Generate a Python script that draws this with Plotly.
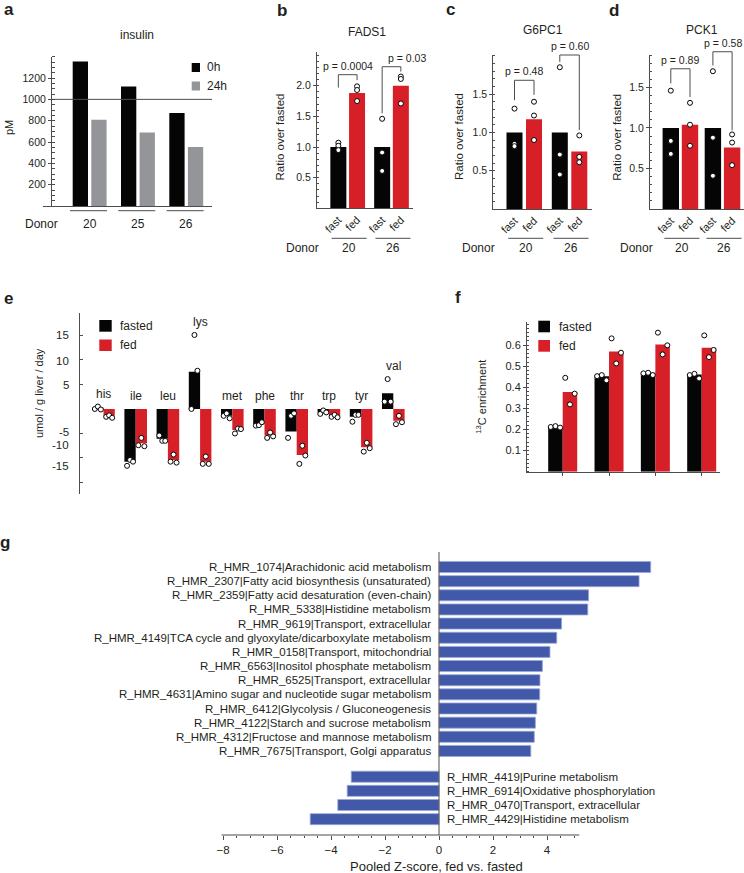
import plotly.graph_objects as go

W, H = 744, 873
FONT = "Liberation Sans, Arial, Helvetica, sans-serif"
TXT = "#231f20"
AXC = "#4d4d4d"
BLK = "#050505"
RED = "#d71f27"
GRY = "#939598"
BLUE = "#4159a8"

# ------------------------------------------------------------------ data
# a: insulin (pM)
insulin_donors = ["20", "25", "26"]
insulin_0h = [1355, 1120, 872]
insulin_24h = [808, 690, 553]
insulin_ref_line = 1000
insulin_ticks = [200, 400, 600, 800, 1000, 1200]

# b-d: ratio over fasted
gene_donors = ["20", "26"]
gene_conditions = ["fast", "fed"]

fads1_fast = [1.0, 1.0]
fads1_fed = [1.88, 2.0]
fads1_fast_pts = [[1.07, 1.02, 0.95], [1.46, 0.91, 0.61]]
fads1_fed_pts = [[1.99, 1.93, 1.75], [2.15, 2.11, 1.71]]
fads1_p = ["p = 0.0004", "p = 0.03"]

g6pc1_fast = [1.0, 1.0]
g6pc1_fed = [1.17, 0.75]
g6pc1_fast_pts = [[1.31, 0.85, 0.82], [1.85, 0.71, 0.45]]
g6pc1_fed_pts = [[1.40, 1.22, 0.90], [0.96, 0.68, 0.61]]
g6pc1_p = ["p = 0.48", "p = 0.60"]

pck1_fast = [1.0, 1.0]
pck1_fed = [1.04, 0.76]
pck1_fast_pts = [[1.46, 0.84, 0.68], [1.70, 0.88, 0.41]]
pck1_fed_pts = [[1.31, 1.04, 0.78], [0.92, 0.82, 0.54]]
pck1_p = ["p = 0.89", "p = 0.58"]

# e: amino acid flux (umol / g liver / day)
amino_acids = ["his", "ile", "leu", "lys", "met", "phe", "thr", "trp", "tyr", "val"]
aa_fasted = [0.2, -10.75, -6.1, 7.6, -1.4, -3.1, -4.6, -0.7, -1.6, 3.2]
aa_fed = [-1.4, -7.0, -10.4, -10.75, -4.3, -5.4, -9.4, -1.4, -7.8, -2.4]
aa_fasted_pts = [[0.0, 0.5, -0.1], [-11.6, -10.4, -10.75], [-5.4, -6.5, -6.5],
                 [0.0, 15.1, 7.8], [-1.4, -0.9, -1.9], [-3.4, -3.3, -2.7],
                 [-5.9, -1.4, -0.9], [-1.0, -0.3, -0.7], [-2.6, -1.2, -1.2],
                 [1.5, 6.1, 1.5]]
aa_fed_pts = [[-1.6, -1.3, -1.8], [-7.4, -5.9, -7.6], [-10.75, -9.3, -10.95],
              [-11.2, -9.7, -11.2], [-5.0, -4.0, -4.1], [-5.9, -4.8, -5.6],
              [-11.2, -7.5, -9.5], [-1.6, -1.2, -1.7], [-8.7, -6.9, -8.0],
              [-3.1, -1.4, -2.7]]
aa_ticks = [15, 10, 5, -5, -10, -15]
aa_tick_labels = ["15", "10", "5", "-5", "-10", "-15"]

# f: 13C enrichment
enrich_fasted = [0.212, 0.453, 0.469, 0.461]
enrich_fed = [0.378, 0.570, 0.603, 0.588]
enrich_fasted_pts = [[0.212, 0.216, 0.209], [0.453, 0.458, 0.433],
                     [0.466, 0.469, 0.458], [0.458, 0.464, 0.442]]
enrich_fed_pts = [[0.445, 0.319, 0.370], [0.632, 0.513, 0.564],
                  [0.659, 0.556, 0.599], [0.646, 0.543, 0.577]]
enrich_ticks = [0.1, 0.2, 0.3, 0.4, 0.5, 0.6]

# g: pooled Z-scores
up_pathways = [
    "R_HMR_1074|Arachidonic acid metabolism",
    "R_HMR_2307|Fatty acid biosynthesis (unsaturated)",
    "R_HMR_2359|Fatty acid desaturation (even-chain)",
    "R_HMR_5338|Histidine metabolism",
    "R_HMR_9619|Transport, extracellular",
    "R_HMR_4149|TCA cycle and glyoxylate/dicarboxylate metabolism",
    "R_HMR_0158|Transport, mitochondrial",
    "R_HMR_6563|Inositol phosphate metabolism",
    "R_HMR_6525|Transport, extracellular",
    "R_HMR_4631|Amino sugar and nucleotide sugar metabolism",
    "R_HMR_6412|Glycolysis / Gluconeogenesis",
    "R_HMR_4122|Starch and sucrose metabolism",
    "R_HMR_4312|Fructose and mannose metabolism",
    "R_HMR_7675|Transport, Golgi apparatus",
]
up_z = [7.84, 7.41, 5.54, 5.51, 4.54, 4.36, 4.11, 3.83, 3.74, 3.73, 3.62, 3.57, 3.53, 3.40]
down_pathways = [
    "R_HMR_4419|Purine metabolism",
    "R_HMR_6914|Oxidative phosphorylation",
    "R_HMR_0470|Transport, extracellular",
    "R_HMR_4429|Histidine metabolism",
]
down_z = [-3.25, -3.40, -3.75, -4.77]
z_ticks = [-8, -6, -4, -2, 0, 2, 4]

# ------------------------------------------------------------------ helpers
fig = go.Figure()
annotations = []
shapes = []
lay = {}


def pxx(x):
    return x / W


def pxy(y):
    return 1 - y / H


def dom_x(x0, x1):
    return [x0 / W, x1 / W]


def dom_y(ytop, ybot):
    return [1 - ybot / H, 1 - ytop / H]


def ann(text, x, y, size=11, xanchor="center", yanchor="middle", xref="paper",
        yref="paper", angle=0, bold=False, **kw):
    if xref == "paper":
        x = pxx(x)
    if yref == "paper":
        y = pxy(y)
    annotations.append(dict(
        text=f"<b>{text}</b>" if bold else text, x=x, y=y, xref=xref, yref=yref,
        xanchor=xanchor, yanchor=yanchor, showarrow=False, textangle=angle,
        font=dict(family=FONT, size=size, color=TXT), **kw))


def rect(x0, y0, x1, y1, color):
    shapes.append(dict(type="rect", xref="paper", yref="paper", x0=pxx(x0), x1=pxx(x1),
                       y0=pxy(y1), y1=pxy(y0), fillcolor=color, line=dict(width=0)))


def base_x(**kw):
    d = dict(showgrid=False, zeroline=False, fixedrange=True, showline=True,
             linecolor=AXC, linewidth=1, ticks="", showticklabels=False)
    d.update(kw)
    return d


def base_y(**kw):
    d = dict(showgrid=False, zeroline=False, fixedrange=True, showline=True,
             linecolor=AXC, linewidth=1, ticks="outside", ticklen=3, tickcolor=AXC,
             tickfont=dict(family=FONT, size=10.5, color=TXT))
    d.update(kw)
    return d


def points_trace(xs, ys, xa, ya):
    return go.Scatter(x=xs, y=ys, mode="markers", xaxis=xa, yaxis=ya, cliponaxis=False,
                      marker=dict(size=5, color="white", line=dict(color=BLK, width=1)),
                      hoverinfo="skip")


# ------------------------------------------------------------------ panel a
A = dict(x0=43, x1=212, yax=51, ytop=56.7, ybot=206, pxu=48.3, g0=89.7)
a_idx = list(range(len(insulin_donors)))
fig.add_trace(go.Bar(x=a_idx, y=insulin_0h, xaxis="x", yaxis="y", name="0h",
                     width=15.3 / A["pxu"], offset=-17 / A["pxu"],
                     marker=dict(color=BLK, line=dict(width=0))))
fig.add_trace(go.Bar(x=a_idx, y=insulin_24h, xaxis="x", yaxis="y", name="24h",
                     width=15.3 / A["pxu"], offset=1.6 / A["pxu"],
                     marker=dict(color=GRY, line=dict(width=0))))
a_left = -(A["g0"] - A["x0"]) / A["pxu"]
a_right = a_left + (A["x1"] - A["x0"]) / A["pxu"]
lay["xaxis"] = base_x(domain=dom_x(A["x0"], A["x1"]), range=[a_left, a_right], anchor="y")
lay["yaxis"] = base_y(domain=dom_y(A["ytop"], A["ybot"]), range=[0, 1400], anchor="free",
                      position=pxx(A["yax"]), tickvals=insulin_ticks,
                      minor=dict(ticks="inside", ticklen=3, dtick=50, tick0=0, tickcolor=AXC))
shapes.append(dict(type="line", xref="paper", yref="y", x0=pxx(A["yax"]), x1=pxx(A["x1"]),
                   y0=insulin_ref_line, y1=insulin_ref_line, line=dict(color=AXC, width=1)))
for i, d in enumerate(insulin_donors):
    shapes.append(dict(type="line", xref="x", yref="paper", x0=i - 19.7 / A["pxu"],
                       x1=i + 17.3 / A["pxu"], y0=pxy(210.7), y1=pxy(210.7),
                       line=dict(color=AXC, width=1)))
    ann(d, i, 224.3, size=12, xref="x")
ann("Donor", 41, 224.3, size=12)
ann("insulin", 137, 35, size=12)
ann("pM", 9, 128, size=11, angle=-90)
rect(191.7, 63, 200, 72, BLK)
rect(191.7, 81.5, 200, 90.5, GRY)
ann("0h", 205, 67.5, size=12, xanchor="left")
ann("24h", 205, 86, size=12, xanchor="left")
ann("a", 9, 10, size=17, bold=True)

# ------------------------------------------------------------------ panels b-d
GENES = [
    dict(n=2, title="FADS1", fast=fads1_fast, fed=fads1_fed, fpts=fads1_fast_pts,
         dpts=fads1_fed_pts, pv=fads1_p, yax=316, xend=413, ytop=52, ybot=208.3,
         ymax=2.55, ticks=[0.5, 1.0, 1.5, 2.0], pxu=43.8, g0=347.7, half=9.35, bw=16,
         title_xy=(366.7, 31.7), ytitle_x=279.5, donor_x=302, letter=("b", 282, 11),
         brackets=[(1.97, 2.18, 2.09, 0), (1.55, 2.31, 2.23, 15)]),
    dict(n=3, title="G6PC1", fast=g6pc1_fast, fed=g6pc1_fed, fpts=g6pc1_fast_pts,
         dpts=g6pc1_fed_pts, pv=g6pc1_p, yax=492.3, xend=591.7, ytop=55, ybot=209,
         ymax=2.01, ticks=[0.5, 1.0, 1.5], pxu=45.3, g0=524.25, half=9.75, bw=16,
         title_xy=(542.7, 30), ytitle_x=459, donor_x=478, letter=("c", 450, 10),
         brackets=[(1.42, 1.68, 1.49, 0), (1.92, 2.01, 1.03, 0)]),
    dict(n=4, title="PCK1", fast=pck1_fast, fed=pck1_fed, fpts=pck1_fast_pts,
         dpts=pck1_fed_pts, pv=pck1_p, yax=649, xend=744, ytop=55, ybot=209,
         ymax=1.9, ticks=[0.5, 1.0, 1.5], pxu=42.1, g0=680.4, half=9.6, bw=16.4,
         title_xy=(701.7, 30), ytitle_x=616.7, donor_x=636.7, letter=("d", 614, 11),
         brackets=[(1.55, 1.73, 1.38, 0), (1.77, 1.94, 0.97, 0)]),
]

for G in GENES:
    n = G["n"]
    xa, ya = f"x{n}", f"y{n}"
    pxu = G["pxu"]
    half = G["half"] / pxu
    bw = G["bw"] / pxu
    gi = list(range(len(gene_donors)))
    for vals, pts, sign, col in [(G["fast"], G["fpts"], -1, BLK), (G["fed"], G["dpts"], 1, RED)]:
        fig.add_trace(go.Bar(x=gi, y=vals, xaxis=xa, yaxis=ya, width=bw,
                             offset=sign * half - bw / 2,
                             marker=dict(color=col, line=dict(width=0))))
        xs, ys = [], []
        for i, p in enumerate(pts):
            for v in p:
                xs.append(i + sign * half)
                ys.append(v)
        fig.add_trace(points_trace(xs, ys, xa, ya))
    left = -(G["g0"] - G["yax"]) / pxu
    right = left + (G["xend"] - G["yax"]) / pxu
    tv, tt = [], []
    for i in gi:
        for s, c in zip((-1, 1), gene_conditions):
            tv.append(i + s * half)
            tt.append(c)
    lay[f"xaxis{n}"] = base_x(domain=dom_x(G["yax"], G["xend"]), range=[left, right],
                              anchor=ya, tickvals=tv, ticktext=tt, showticklabels=True,
                              tickangle=-45, tickfont=dict(family=FONT, size=11, color=TXT))
    lay[f"yaxis{n}"] = base_y(domain=dom_y(G["ytop"], G["ybot"]), range=[0, G["ymax"]],
                              anchor="free", position=pxx(G["yax"]), tickvals=G["ticks"],
                              tickformat=".1f",
                              minor=dict(ticks="inside", ticklen=2, dtick=0.1, tick0=0,
                                         tickcolor=AXC))

    def vy(v, G=G):
        return pxy(G["ybot"] - v * (G["ybot"] - G["ytop"]) / G["ymax"])

    for i, d in enumerate(gene_donors):
        shapes.append(dict(type="line", xref=xa, yref="paper", x0=i - 16 / pxu,
                           x1=i + 19 / pxu, y0=pxy(238.3), y1=pxy(238.3),
                           line=dict(color=AXC, width=1)))
        ann(d, i + 1.5 / pxu, 248.3, size=12, xref=xa)
        yl, yt, yr, xs_ = G["brackets"][i]
        xl, xr = i - half, i + half
        shapes.append(dict(type="path", xref=xa, yref="paper",
                           path=f"M {xl},{vy(yl)} L {xl},{vy(yt)} L {xr},{vy(yt)} L {xr},{vy(yr)}",
                           line=dict(color=AXC, width=1)))
        annotations.append(dict(text=G["pv"][i], x=i, xref=xa, y=vy(yt), yref="paper",
                                xanchor="center", yanchor="bottom", yshift=1, xshift=xs_,
                                showarrow=False,
                                font=dict(family=FONT, size=10.5, color=TXT)))
    ann("Donor", G["donor_x"], 248.3, size=12)
    ann(G["title"], G["title_xy"][0], G["title_xy"][1], size=12)
    ann("Ratio over fasted", G["ytitle_x"], 137, size=11.5, angle=-90)
    L = G["letter"]
    ann(L[0], L[1], L[2], size=17, bold=True)

# ------------------------------------------------------------------ panel e
E = dict(x0=79, x1=420, ytop=312.7, ybot=494, pxu=32.2, g0=103.5, ymin=-17.35, ymax=19.65)
e_bw = 11.3 / E["pxu"]
e_jit = 3.0 / E["pxu"]
e_idx = list(range(len(amino_acids)))
for vals, pts, off, col in [(aa_fasted, aa_fasted_pts, -e_bw, BLK), (aa_fed, aa_fed_pts, 0.0, RED)]:
    fig.add_trace(go.Bar(x=e_idx, y=vals, xaxis="x5", yaxis="y5", width=e_bw, offset=off,
                         marker=dict(color=col, line=dict(width=0))))
    xs, ys = [], []
    for i, p in enumerate(pts):
        for j, v in enumerate(p):
            xs.append(i + off + e_bw / 2 + (j - 1) * e_jit)
            ys.append(v)
    fig.add_trace(points_trace(xs, ys, "x5", "y5"))
e_left = -(E["g0"] - E["x0"]) / E["pxu"]
e_right = e_left + (E["x1"] - E["x0"]) / E["pxu"]
lay["xaxis5"] = base_x(domain=dom_x(E["x0"], E["x1"]), range=[e_left, e_right], anchor="y5",
                       showline=False)
lay["yaxis5"] = base_y(domain=dom_y(E["ytop"], E["ybot"]), range=[E["ymin"], E["ymax"]],
                       anchor="free", position=pxx(E["x0"]), tickvals=aa_ticks,
                       ticks="inside", ticklen=3, showticklabels=False)
# tick labels as printed in the source figure (negative labels sit off their ticks)
e_label_px = [335.3, 361, 385, 432, 444.5, 465.7]
for lab, ypx in zip(aa_tick_labels, e_label_px):
    ann(lab, 70.5, ypx, size=11.5, xanchor="right")
for i, aa in enumerate(amino_acids):
    top = max([0, aa_fasted[i], aa_fed[i]] + aa_fasted_pts[i] + aa_fed_pts[i])
    annotations.append(dict(text=aa, x=i, xref="x5", y=top, yref="y5", xanchor="center",
                            yanchor="bottom", yshift=4, showarrow=False,
                            font=dict(family=FONT, size=12, color=TXT)))
rect(99.3, 320, 111.7, 331.7, BLK)
rect(99.3, 339.5, 111.7, 351, RED)
ann("fasted", 118.3, 326, size=12, xanchor="left")
ann("fed", 118.3, 345.5, size=12, xanchor="left")
ann("umol / g liver / day", 39, 393, size=11, angle=-90)
ann("e", 8, 298, size=17, bold=True)

# ------------------------------------------------------------------ panel f
F = dict(x0=526, x1=720, ytop=321.7, ybot=471.7, pxu=46.33, g0=562.7, ymax=0.711)
f_bw = 14.5 / F["pxu"]
f_jit = 4.7 / F["pxu"]
f_idx = list(range(len(enrich_fasted)))
for vals, pts, off, col in [(enrich_fasted, enrich_fasted_pts, -f_bw, BLK),
                            (enrich_fed, enrich_fed_pts, 0.0, RED)]:
    fig.add_trace(go.Bar(x=f_idx, y=vals, xaxis="x6", yaxis="y6", width=f_bw, offset=off,
                         marker=dict(color=col, line=dict(width=0))))
    xs, ys = [], []
    for i, p in enumerate(pts):
        for j, v in enumerate(p):
            xs.append(i + off + f_bw / 2 + (j - 1) * f_jit)
            ys.append(v)
    fig.add_trace(points_trace(xs, ys, "x6", "y6"))
f_left = -(F["g0"] - F["x0"]) / F["pxu"]
f_right = f_left + (F["x1"] - F["x0"]) / F["pxu"]
lay["xaxis6"] = base_x(domain=dom_x(F["x0"], F["x1"]), range=[f_left, f_right], anchor="y6",
                       tickvals=f_idx, ticks="outside", ticklen=3, tickcolor=AXC)
lay["yaxis6"] = base_y(domain=dom_y(F["ytop"], F["ybot"]), range=[0, F["ymax"]],
                       anchor="free", position=pxx(F["x0"]), tickvals=enrich_ticks,
                       tickfont=dict(family=FONT, size=11, color=TXT),
                       minor=dict(ticks="inside", ticklen=2, dtick=0.02, tick0=0,
                                  tickcolor=AXC))
rect(538.3, 320.7, 550, 332.3, BLK)
rect(538.3, 340, 550, 351.7, RED)
ann("fasted", 556.7, 326.5, size=12, xanchor="left")
ann("fed", 556.7, 346, size=12, xanchor="left")
ann("<sup>13</sup>C enrichment", 481, 396.7, size=11, angle=-90)
ann("f", 458.5, 297.5, size=17, bold=True)

# ------------------------------------------------------------------ panel g
GG = dict(x0=210, x1=700, zero=439, pxu=27.0, ytop=552, ybot=835, row0=567, rowh=14.15,
          gap=0.82)
up_rows = list(range(len(up_pathways)))
down_rows = [len(up_pathways) + GG["gap"] + k for k in range(len(down_pathways))]
bar_style = dict(color=BLUE, line=dict(color="#9aa8d8", width=0.8))
fig.add_trace(go.Bar(x=up_z, y=up_rows, orientation="h", xaxis="x7", yaxis="y7",
                     width=0.78, marker=bar_style))
fig.add_trace(go.Bar(x=down_z, y=down_rows, orientation="h", xaxis="x7", yaxis="y7",
                     width=0.78, marker=bar_style))
g_left = (GG["x0"] - GG["zero"]) / GG["pxu"]
g_right = (GG["x1"] - GG["zero"]) / GG["pxu"]
g_top = -(GG["row0"] - GG["ytop"]) / GG["rowh"]
g_bot = (GG["ybot"] - GG["row0"]) / GG["rowh"]
minor_vals = [v / 2 for v in range(-15, 11) if v % 4 != 0]
lay["xaxis7"] = base_x(domain=dom_x(GG["x0"], GG["x1"]), range=[g_left, g_right],
                       anchor="y7", showline=False, tickvals=z_ticks, showticklabels=True,
                       ticks="outside", ticklen=4, tickcolor=AXC,
                       tickfont=dict(family=FONT, size=11.5, color=TXT),
                       minor=dict(ticks="outside", ticklen=2, tickmode="array",
                                  tickvals=minor_vals, tickcolor=AXC))
lay["yaxis7"] = dict(domain=dom_y(GG["ytop"], GG["ybot"]), range=[g_bot, g_top],
                     anchor="x7", showline=False, showticklabels=False, ticks="",
                     fixedrange=True, showgrid=False, zeroline=False)
shapes.append(dict(type="line", xref="x7", yref="paper", x0=-8.05, x1=5.2,
                   y0=pxy(GG["ybot"]), y1=pxy(GG["ybot"]), line=dict(color=AXC, width=1)))
shapes.append(dict(type="line", xref="x7", yref="paper", x0=0, x1=0,
                   y0=pxy(GG["ybot"]), y1=pxy(GG["ytop"]), line=dict(color=AXC, width=1)))
for lab, r in zip(up_pathways, up_rows):
    annotations.append(dict(text=lab, x=0, xref="x7", y=r, yref="y7", xanchor="right",
                            yanchor="middle", xshift=-6, showarrow=False,
                            font=dict(family=FONT, size=11.5, color=TXT)))
for lab, r in zip(down_pathways, down_rows):
    annotations.append(dict(text=lab, x=0, xref="x7", y=r, yref="y7", xanchor="left",
                            yanchor="middle", xshift=6, showarrow=False,
                            font=dict(family=FONT, size=11.5, color=TXT)))
ann("Pooled Z-score, fed vs. fasted", 436, 866.5, size=13)
ann("g", 5, 542, size=17, bold=True)

# ------------------------------------------------------------------ layout
fig.update_layout(
    width=W, height=H, margin=dict(l=0, r=0, t=0, b=0),
    paper_bgcolor="white", plot_bgcolor="rgba(0,0,0,0)",
    showlegend=False, barmode="overlay",
    font=dict(family=FONT, size=11, color=TXT),
    annotations=annotations, shapes=shapes, **lay)

fig.write_html("out.html", config=dict(displayModeBar=False),
               post_script="document.body.style.margin='0';document.body.style.overflow='hidden';")
